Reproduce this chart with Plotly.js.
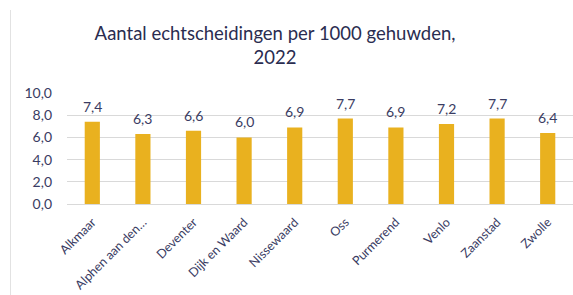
<!DOCTYPE html>
<html><head><meta charset="utf-8">
<script src="https://cdn.plot.ly/plotly-3.0.1.min.js"></script>
<style>html,body{margin:0;padding:0;background:#fff;}#frame{position:absolute;left:10px;top:10px;width:1px;height:285px;background:#e2e2e2;pointer-events:none;}</style>
</head><body>
<div id="chart" style="width:573px;height:295px;"></div>
<div id="frame"></div>
<script>
const categories = ["Alkmaar","Alphen aan den\u2026","Deventer","Dijk en Waard","Nissewaard","Oss","Purmerend","Venlo","Zaanstad","Zwolle"];
const values = [7.4, 6.3, 6.6, 6.0, 6.9, 7.7, 6.9, 7.2, 7.7, 6.4];
const yTicks = [0, 2, 4, 6, 8, 10];
const titleText = "Aantal echtscheidingen per 1000 gehuwden,<br>2022";

const textColor = "#3a3c63";
const font = "Lato, sans-serif";
const annotations = categories.map((c, i) => ({
  x: c, y: values[i], xref: "x", yref: "y",
  text: values[i].toFixed(1).replace(".", ","),
  showarrow: false, yanchor: "bottom", yshift: 5,
  font: {family: font, size: 14, color: textColor}
}));

Plotly.newPlot("chart", [{
  type: "bar",
  x: categories,
  y: values,
  marker: {color: "#E9B11F"},
  hoverinfo: "none"
}], {
  width: 573, height: 295,
  margin: {l: 67, r: 0, t: 93, b: 91},
  paper_bgcolor: "#fff", plot_bgcolor: "#fff",
  separators: ",.",
  bargap: 0.7,
  showlegend: false,
  annotations: annotations,
  title: {text: titleText, x: 0.48, xanchor: "center", y: 0.865, yanchor: "top",
          font: {family: font, size: 18.5, color: "#2a2c50"}},
  xaxis: {tickangle: -45, showgrid: false, showline: true, linecolor: "#d9d9d9", linewidth: 1,
          ticklabelstandoff: 5,
          tickfont: {family: font, size: 12.5, color: textColor}, ticks: ""},
  yaxis: {range: [0, 10], tickvals: yTicks, tickformat: ".1f", showgrid: true, gridcolor: "#d9d9d9",
          zeroline: false, showline: false, ticks: "", ticklabelstandoff: 14,
          tickfont: {family: font, size: 14, color: textColor}}
}, {staticPlot: true, displayModeBar: false});
</script>
</body></html>
